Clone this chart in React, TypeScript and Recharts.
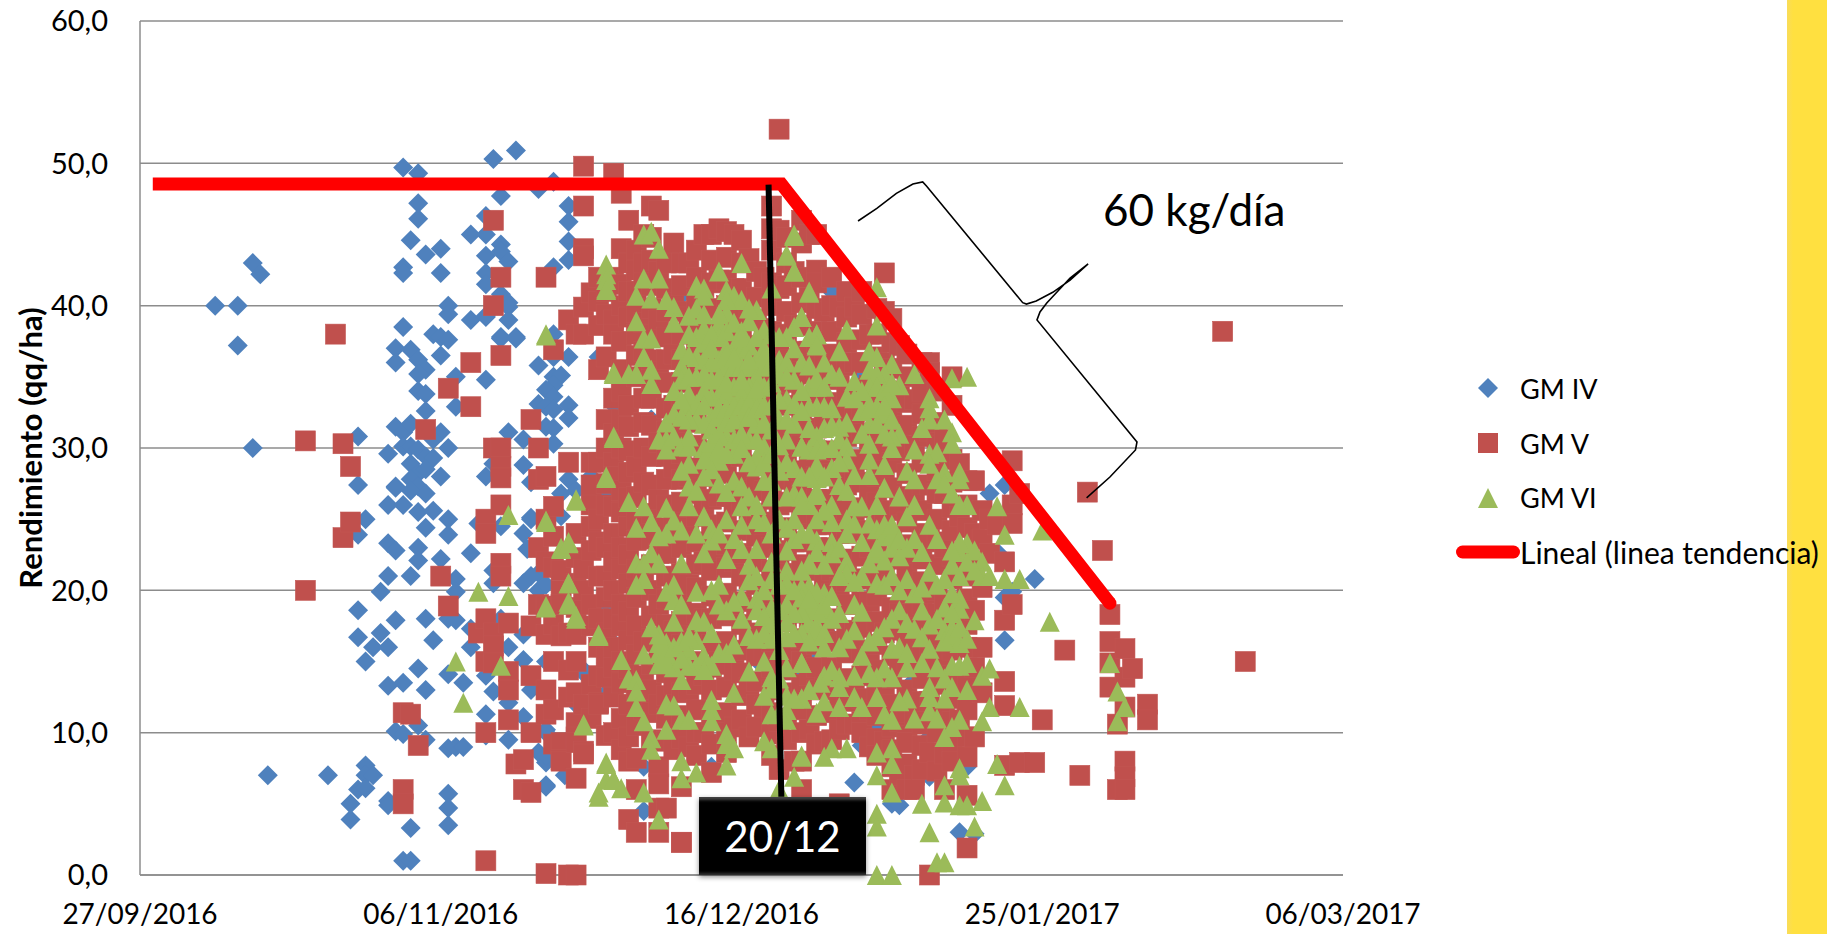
// Scatter of yield vs. sowing date by maturity group, with a plateau-and-decline trend line.
import { ScatterChart, Scatter, XAxis, YAxis, CartesianGrid, Legend } from 'recharts';

const FONT = 'Lato, "Open Sans", sans-serif';
const BLUE = '#4F81BD';
const RED = '#C0504D';
const GREEN = '#9BBB59';

// x values are days after 27/09/2016 (1 tick = 40 days)
const xTicks = [0, 40, 80, 120, 160];
const xTickLabels = ['27/09/2016', '06/11/2016', '16/12/2016', '25/01/2017', '06/03/2017'];
const yTicks = [0, 10, 20, 30, 40, 50, 60];

const gmIV = [
  [10,40],[13,40],[13,37.2],[15,43],[16,42.2],[15,30],[29,30.8],[35,49.7],[37,49.3],[37,47.2],[37,46.1],[36,44.6],[35,42.7],[35,42.3],[38,43.6],[40,44],[40,42.3],
  [41,40],[41,39.4],[35,38.5],[34,37],[36,36.9],[34,36],[37,36.2],[38,35.5],[37,35.2],[39,38],[40,37.8],[41,37.6],[40,36.5],[42,35],[46,34.8],[44,39],[46,39.2],[49,39.9],[49,39],
  [48,37.8],[50,37.8],[53,35.8],[57,36.4],[55,36.4],[55,35],[56,35.1],[55,34.4],[54,34.1],[55,33.6],[53,33.1],[54,32.9],[55,32.7],[57,33],[57,32.1],[37,34],[38,33.8],[42,32.9],[38,32.6],
  [34,31.5],[35,31.1],[36,31.7],[40,31.1],[39,30.6],[41,30],[33,29.6],[35,30.1],[36,30.1],[37,29.9],[38,29.4],[39,29.3],[36,28.9],[37,28.2],[38,28.5],[40,28],[36,27.8],[37,27.3],[34,27.3],
  [36,27],[38,26.8],[33,26],[35,26],[37,25.5],[39,25.6],[41,25],[38,24.4],[41,23.9],[33,23.3],[34,22.8],[37,23],[37,22.1],[40,22.2],[44,22.6],[33,21],[36,21],[42,20.8],[42,19.9],[32,19.9],
  [49,31.1],[51,30.6],[46,28],[51,28.8],[52,27.6],[52,25.1],[51,24],[45,24.7],[48,24.5],[52,23],[47,21.4],[51,20.5],[53,21.2],[47,20.5],[54,31.5],[55,31.4],[55,30.3],[47,28.9],[57,27.8],[58,27],[56,25.2],
  [47,50.3],[50,50.9],[55,48.7],[53,48.2],[48,47.7],[57,47],[57,45.9],[46,46.3],[44,45],[46,45],[48,44.3],[48,43.8],[57,44.5],[46,43.5],[49,43.1],[57,43.2],[55,42.7],[46,42.3],[46,41.5],[48,40.8],[49,40.2],[46,39.3],[48,37.7],[50,37.7],[55,38],
  [29,27.4],[34,27.2],[30,25],[29,23.9],[29,18.6],[34,17.9],[38,18],[41,18],[42,17.9],[29,16.7],[32,17],[31,16],[33,16],[39,16.5],[30,15],[37,14.5],[41,14.1],[33,13.3],[35,13.5],[38,13],[43,13.5],[44,17.3],
  [34,10.1],[35,9.9],[37,10.5],[38,9.5],[41,8.9],[42,9],[43,9],[30,7.7],[30,7],[31,7],[29,6],[30,6.1],[17,7],[25,7],[28,5],[28,3.9],[33,5.2],[33,4.9],[41,5.7],[41,4.7],[41,3.5],[36,3.3],[35,1],[36,1],
  [47,12.9],[46,11.3],[46,14],[49,12.1],[51,15.1],[52,13],[51,11.1],[54,10.2],[49,9.5],[46,9.8],[53,8.6],[54,6.3],[56.5,7],[54,7.9],[52,25],[51.5,22.9],[44,16],[49,16],[54,15],[59,14.4],[62,14.7],[62,12.8],[62,19],[63,16.3],[58,12.1],[52,21],[53,20],[48,18],[51,16.9],
  [64,39],[61,36.4],[72,40.7],[71,37],[63,33],[68,32],[70,34.8],[64,26.1],[66,29.6],[60,28],[56,26.8],[62,26.8],[71,24],[82,23.6],[76,21.8],[54,20.4],[62,16.6],[62,14.9],[59,14.2],[58,12],[54,10],[54,8.4],[54,6.2],[67,7.6],[67,4.5],[76,7.6],[82,15.1],[89,14.2],
  [119,20.8],[115,16.5],[116,19.9],[115,19.5],[114,24.7],[114,22.7],[95,6.5],[96,9.1],[97,9.9],[98,10.2],[100,5],[101,4.9],[109,3],[111,2.9],[103,15.2],[103,13.7],[105,11.8],[105,9.7],[105,6.9],[110,7.6],[89,15.6],[92,16.7],[96,17.9],[88,14.2],
  [92,41],[90,35.2],[106,30.9],[113,26.8],[115,27.4],[96,35],[102,30.3],
];

// each row: day, then the yields seen in that day's column
const gmVByDay = [
  [22,30.5,20],[26,38],[27,30.3,23.7],[28,28.7,24.8],[35,11.4,6,5],[36,11.3],[37,9.1],[38,31.3],[40,21],[41,34.2,18.9],[44,36,32.9],[45,17],
  [46,25,24,18,15,10,1],[47,46,40,30,17,16.1,14.9],[48,42,36.5,30,28.7,27.9,26,21.9,21],[49,17.7,14.3,13,10.9],[50,7.8],[51,8.1,6],[52,32,17.5,14,10,5.8],[53,30,27.8,23,19],
  [54,42,28,25,22,18.9,16.9,13,11.3,0.1],[55,36.9,25.9,23.8,21.6,17.6,15,11.6,9.2],[56,21.4,20,16.8,9.3,8.1,8,19],[57,39,29,17,14.4,12.5,0],[58,38,24,22.3,20.5,18.8,16.9,15,12.8,10.7,9.7,9.3,6.8,0],
  [59,49.8,47,44,43.5,39.9,38,21.5,20,12,8.7,8.5],[60,40.9,29,27.4,26,24.5,22.8,19,17.5,13.4,11],[61,42,40.3,38.6,35.5,29,25,23.4,21,18,16,14,12.1,12],
  [62,41,39.4,36.4,32,30,27.5,26,23,21,19.5,17,15.3,13.9,9.8],[63,49.3,42,39,38,33.5,31,29,28,25.9,24,22,20,18,16,14.6,12.5,10],
  [64,47.9,44,41.5,40,37.5,35.5,34,32,30,27,25.5,23,21.5,19,17.5,15,13.5,11,8.8],[65,46,43,41,39.2,33,31.5,29.8,28.3,26.5,24.5,22.5,20.5,18.5,16.5,14.5,12,9.7,8,3.9],
  [66,43.9,42.5,41,39.5,38,36.5,35,28.7,26.6,25,23.5,21.5,19.5,17.5,15.5,13,10.5,8.2,6,3],[67,45,43,41.6,38.8,36.8,33.5,31.8,30,27.6,24.4,20.6,16.4,14,11.6],
  [68,47,44.8,43.2,41.4,39.8,38,36.2,34.8,33.5,31.6,29.4,27.4,25.4,23.6,21.8,20,18.2,16.6,14.8,13,11.4,9.5],[69,46.7,42.4,39,35.4,30.4,26.4,22.6,19,15.4,12,7.6,6.4,4.7,3],
  [70,43,41.2,39.6,37.8,36.2,34.6,32.8,31.2,29.4,27.8,26,24.4,22.6,21,19.4,17.6,16,14.2,12.6,11,9.4,4.7],[71,44.4,40.2,36.6,33,28.6,25,20.8,17.2,13.4,8.8],
  [72,43,41.4,39.6,38,36.2,34.6,33,31.2,29.6,27.8,26.2,24.6,23,21.2,19.6,17.8,16.2,14.6,12.8,11.2,9.6,6.2,2.3],[73,43,39.2,35.6,31.8,28,24.4,20.4,16.8,13,9],
  [74,43.9,42,40.4,38.6,37,35.2,33.6,32,30.2,28.6,26.8,25.2,23.4,21.8,20.2,18.4,16.8,15,13.4,11.6,10,8.4],[75,45,41,37.4,33.8,29.6,25.8,22,18,14,10],
  [76,45,43.2,41.6,39.8,38.2,36.4,34.8,33.2,31.4,29.8,28,26.4,24.6,23,21.4,19.6,18,16.2,14.6,13,11.2,9.2,7.2],[77,45.4,41.8,38,34.2,30.4,26.6,22.8,19,15,11],
  [78,45.2,43.4,41.8,40,38.4,36.6,35,33.4,31.6,30,28.2,26.6,24.8,23.2,21.6,19.8,18.2,16.4,14.8,13.2,11.4,10,8.6],[79,45,41.2,37.4,33.6,29.8,26,22,18.4,14.4,10.4],
  [80,44.6,43,41.2,39.4,37.8,36,34.4,32.8,31,29.4,27.6,26,24.2,22.6,21,19.2,17.6,15.8,14.2,12.6,10.9],[81,43.3,39.8,36,32.2,28.4,24.6,20.8,17,13.2,9.7],
  [82,42.4,40.6,39,37.2,35.6,33.8,32.2,30.6,28.8,27.2,25.4,23.8,22,20.4,18.8,17,15.4,13.6,12,10.4],[83,42,38.4,34.6,30.8,27,23.2,19.4,15.6,11.8],
  [84,47,45.4,43.9,41.6,40,38.2,36.6,34.8,33.2,31.6,29.8,28.2,26.4,24.8,23,21.4,19.8,18,16.4,14.6,13,11.4,9.9,8.4],[85,45.3,41.2,37.4,33.6,29.8,26,22.2,18.4,14.6,10.8,7.4],
  [86,44.8,43,41.4,39.6,38,36.2,34.6,33,31.2,29.6,27.8,26.2,24.4,22.8,21.2,19.4,17.8,16,14.4,12.8,11,9.5],[87,42.4,38.6,34.8,31,27.2,23.4,19.6,15.8,12,8],
  [88,46,44.4,42,40.2,38.6,36.8,35.2,33.4,31.8,30.2,28.4,26.8,25,23.4,21.8,20,18.4,16.6,15,13.4,11.6,10,8,6],[89,45,40.6,36.8,33,29.2,25.4,21.6,17.8,14,10.2],
  [90,45,42.5,41.6,39.8,38.2,36.4,34.8,33.2,31.4,29.8,28,26.4,24.6,23,21.4,19.6,18,16.2,14.6,13,11.2,9.2],[91,39.6,36,32.2,28.4,24.6,20.8,17,13.2,9.4],
  [92,42,40,38.2,36.6,34.8,33.2,31.6,29.8,28.2,26.4,24.8,23,21.4,19.8,18,16.4,14.6,13,11.4,9.5],[93,39.9,35.4,31.6,27.8,24,20.2,16.4,12.6,10.2,5],
  [94,41,39.2,37.4,35.8,34,32.4,30.8,29,27.4,25.6,24,22.2,20.6,19,17.2,15.6,13.8,12.2,10.6],[95,39.9,36,32.2,28.4,24.6,20.8,17,13.2,10.6],
  [96,41,39.4,37.6,36,34.2,32.6,31,29.2,27.6,25.8,24.2,22.4,20.8,19.2,17.4,15.8,14,12.4,10.8,10],[97,38,34.4,30.6,26.8,23,19.2,15.4,11.6,9],
  [98,39.8,38,36.4,34.6,33,31.4,29.6,28,26.2,24.6,22.8,21.2,19.6,17.8,16.2,14.4,12.8,11.2,9.6,8.4],[99,42.3,39.6,36,32.2,28.4,24.6,20.8,17,13.2,9.4],
  [100,39.1,37.4,35.6,34,32.2,30.6,29,27.2,25.6,23.8,22.2,20.4,18.8,17.2,15.4,13.8,12,10.4,8.8,7.6,6],[101,37.2,33.6,29.8,26,22.2,18.4,14.6,10.8,7],
  [102,36.6,35,33.2,31.6,30,28.2,26.6,24.8,23.2,21.4,19.8,18.2,16.4,14.8,13,11.4,9.8,9.3,7.8,6],[103,33.4,30.2,26.4,22.6,18.8,15,11.2,7,6],
  [104,36,34,32.4,30.8,29,27.4,25.6,24,22.2,20.6,19,17.2,15.6,13.8,12.2,10.6,9.1,7.4],[105,36,35.3,31.2,27.4,23.6,19.8,16,12.2,8.6,0],
  [106,34,31.8,30.2,28.4,26.8,25,23.4,21.8,20,18.4,16.6,15,13.4,11.6,10,7.3],[107,30.6,26.8,23,19.2,15.4,11.6,8.5,6],
  [108,35,33,29.2,27.6,25.8,24.2,22.4,20.8,19.2,17.4,15.8,14,12.4,10.8,9,8],[109,28.9,25.2,21.4,17.6,13.8,10.9],
  [110,27.7,26,24.4,22.6,21,19.4,17.6,16,14.2,13.2,11.6,9.7,8.3,5.6,1.9],[111,27.7,24,22,18.6,14.6,9.7],[112,25.6,23.6,20.2,16,12.8],[113,25,22.6],[114,24.6],
  [115,22,17.9,13.6,11.9,7.7],[116,29.1,26,24.7,19],[117,26.8,7.9],[119,7.9],[120,10.9],[123,15.8],[125,7],[126,26.9],[128,22.8],
  [129,18.3,16.4,14.9,13.2],[130,10.6,6],[131,15.9,13.9,11.8,8,6.9,6],[132,14.5],[134,12,10.9],[85,52.4],[72,2.3],[144,38.2],[147,15],
];

const gmVI = [
  [62,42.9],[62,42.2],[62,41.2],[67,45],[68,45.2],[69,44],[67,41.9],[69,41.9],[66,40.7],[68,40.5],[70,40.4],[71,39.9],[71,38.8],[74,41.4],[75,41.2],[75,40.7],[77,42.4],[80,43],[73,39.3],[74,39.8],
  [78,41.1],[79,40.7],[80,40.4],[78,40.4],[78,39.5],[82,39.7],[81,38.9],[77,38.7],[84,41.2],[87,44.9],[86,43.6],[87,42.4],[89,41],[66,38.9],[67,37.7],[68,37.7],[67,36.4],[68,35.5],[68,34.5],[63,35.2],[65,35.2],[66,35.2],[54,37.9],
  [72,36.9],[72,35.7],[72,34.8],[71,34],[73,33],[74,33.1],[77,33.8],[74,37.8],[75,38.4],[77,37.8],[79,37.1],[80,36.9],[81,37.2],[82,36.2],[83,38.3],[87,38.5],[86,37.8],[88,39.2],[90,38],[89,37.8],[87,37],[90,37.3],
  [74,36.4],[75,36.2],[76,36],[74,35],[75,35.2],[77,36.2],[78,35.7],[79,35.7],[80,35.7],[81,35.7],[82,35],[83,35.7],[83,34.3],[79,34.3],[81,34.3],[80,33.8],[78,33.8],[82,33.6],[76,33.6],[85,35.2],[87,34.8],[86,33.4],[85,33.4],[87,33.1],[89,34.3],[90,34.3],[90,32.9],
  [70,31.8],[70,30.6],[69,30.6],[70,29.9],[72,30.1],[73,30.1],[73,28.9],[76,32.2],[77,32.2],[74,32],[75,31.7],[76,31.3],[78,30.8],[80,32.2],[81,30.6],[82,31.7],[84,31.3],[83,30.1],[86,30.6],[87,31.7],[88,30.1],[90,30.8],[89,29.9],
  [76,29.6],[77,29.1],[79,29.6],[82,29.4],[82,28.7],[87,28.6],[88,28],[76,28.5],[75,28],[84,27.7],[83,27.7],[73,27.3],[74,27],[77,27.5],[79,27.7],[78,26.9],[80,27.3],[81,26.6],[82,26],[80,25.9],[73,25.9],[70,25.8],[67,25.9],[62,27.9],[58,26.3],[63,30.7],
  [87,26.8],[88,26.6],[86,26.6],[90,27],[89,26],[84,26.6],[75,25.2],
  [98,41.3],[89,40.9],[98,38.6],[94,38.3],[90,38],[88,39.2],[90,37.2],[93,36.8],[97,36.8],[98,36.4],[100,35.9],[103,35.2],[108,34.9],[110,35],[101,34.4],[93,35],[95,34.7],[90,34.9],[91,34.3],[99,35.2],[97,35.5],[98,35.2],[97,34.3],[98,34.3],[100,33.5],[105,33.5],[105,32.8],[89,32.9],[92,32.8],[91,32.9],[94,33.6],[95,33.5],[97,33.1],[98,32.9],[99,32.4],[97,31.7],[98,31.7],
  [105,32],[104,31.4],[107,32],[108,31.1],[108,30.3],[93,31.5],[93,30.6],[90,30.8],[88,30.1],[97,30.3],[101,31],[100,30.8],[90,29.9],[94,30.1],[100,30],[103,29.9],[105,29.6],[106,29.7],[94,29.2],[99,28.8],[97,29.2],[102,28.4],[105,28.9],[107,28.3],[109,28.3],[103,27.8],[92,28.6],[90,27.9],[95,28.1],[97,28.1],[99,27.2],[93,27.4],[109,27.8],[106,27.8],[101,26.6],[90,26.7],[103,26],[98,26],[95,25.9],[96,25.9],[92,26],[110,26],[109,26],[114,25.9],[108,26.8],[107,27.5],
  [90,25],[92,24.8],[94,25],[95,24.7],[97,24.7],[98,24.3],[99,23.8],[100,23],[102,25.2],[100,23.9],[90,23.5],[92,23.4],[90,22.7],[92,22.6],[94,22],[89,21.8],[91,21.8],[97,21.9],[98,22.6],[99,22.1],[104,22.7],[105,21.3],[94,21.2],[95,20.6],[98,20.5],[99,20.4],[102,20.8],[103,19.8],
  [90,19.9],[91,19.8],[89,20.3],[90,18.8],[89,18.8],[91,18.4],[89,17.7],[90,17.6],[95,19],[96,18.5],[95,17.2],[101,18.6],[102,17.7],[103,17.3],[104,18.6],[105,17.6],[107,18.8],[109,19.4],[109,18.7],[111,17.9],[107,17.2],[108,17.4],
  [108,21.8],[109,22.7],[110,23.3],[111,22.8],[112,22],[109,21],[112,21],[115,23.9],[115,20.8],[117,20.8],[113,21],[121,17.8],[120,24.2],[98,16.8],[90,16.8],[104,16.7],[108,16.6],[109,16.3],[107,16.4],[105,15.9],[100,15.9],[104,14.9],[102,14.6],[99,14.5],[100,13.9],[98,13.9],[108,14.7],[109,14.7],[110,14.9],[112,14],[113,14.5],[91,14],[93,13.9],[95,14],[88,14.9],[93,13.2],
  [105,13.2],[105,12.5],[107,13.8],[108,13.2],[110,13],[107,12.4],[98,12.5],[102,12.4],[101,12.2],[95,12.5],[96,11.8],[93,11.8],[88,12.4],[99,11.3],[100,10.9],[103,11],[105,11.5],[106,11],[109,10.9],[108,10.4],[107,9.7],[113,11.8],[117,11.8],[112,10.8],
  [92,8.9],[94,8.9],[91,8.3],[88,8.3],[98,8.6],[100,8.9],[100,7.8],[114,7.8],[109,7.5],[109,7],[98,7],[107,6.3],[115,6.3],[100,5.8],[112,5.2],[104,5],[107,5.1],[109,4.9],[110,4.9],[98,4.3],[98,3.4],[111,3.4],[105,3],[106,0.9],[107,0.9],[98,0],[100,0],
  [54,24.9],[57,23.4],[56,23],[68,24.8],[71,24.9],[75,22.6],[76,24.3],[76,23.5],[79,23.6],[80,22.9],[82,22.9],[66,21.9],[67,21.9],[69,21.9],[72,21.9],[67,20.8],[66,20.4],[57,20.5],[81,21.8],[81,20.7],[84,20.8],[86,21.4],[87,23.6],[86,22.8],[89,21.9],[88,20.2],
  [70,19.9],[71,20.4],[71,19.3],[72,19],[74,19.9],[76,20],[71,17.8],[74,17.9],[75,17.8],[76,17],[74,16.5],[73,15.8],[74,14.7],[76,14.7],[73,14.7],[72,13.7],[71,14.6],[70,14.9],[69,15.6],[70,16.3],[69,16.3],[69,16.9],[68,17.4],[67,15.5],[64,15.1],[65,13.8],[66,13.7],[66,12.9],[66,11.8],[67,10.8],[70,10.2],[68,9.6],[68,8.8],[70,12],[71,11.9],[72,10.9],[73,10.9],[76,12.3],[76,11.6],[76,10.8],[79,12.8],[78,9.9],[78,9.2],[79,8.9],[78,7.7],[72,8],[72,6.8],[74,7.2],[77,15.6],[78,15.6],[79,16.2],[81,16.8],[82,16.6],[81,14.3],[61,16.8],[58,18],[57,19],[54,18.8],[59,10.5],
  [82,19.4],[82,18.6],[84,18.8],[84,17.7],[84,16.6],[84,13.9],[84,13.1],[84,11.3],[86,14.6],[88,14.9],[86,12.6],[88,12.4],[86,11.6],[86,10.9],[84,8.9],[88,8.4],[87,6.9],[85,6],[62,7.8],[63,6.7],[64,6.1],[61,5.5],[67,5.8],[69,3.9],[62,6.7],[86,16.7],[86,19],[86,20.5],[88,19.5],[90,18.6],[90,19.8],[90,17.2],[90.5,13.5],
  [49,25.3],[54,24.8],[58,26.4],[56,22.9],[57,23.3],[45,19.9],[49,19.6],[57,20.5],[54,18.9],[57,19.2],[58,18.2],[61,16.9],[42,15],[48,14.7],[43,12.1],[59,10.6],[62,7.9],[61,5.8],[63,6.7],[54,38],[62,41.8],[62,41.1],[63,35.3],[63,30.8],[62,28],
  [129,14.9],[130,12.9],[131,11.8],[130,10.8],[87,45],[86,43.5],[87,42.4],
  // solid green core of the cloud, where single triangles can only be estimated
  [73,38],[73,36.5],[73,35],[73,33.8],[73,32],[73,30.8],[75,39.4],[75,37.4],[75,34],[75,33],[75,30],[75,29.2],[76,38],[76,37],[76,34.8],[76,30.4],[77,39.4],[77,35],[77,32.8],[77,31],[77,30],
  [78,38.2],[78,37],[78,36.6],[78,34.6],[78,32.8],[78,31.8],[78,29.6],[79,38.8],[79,36.4],[79,33],[79,32],[79,30.6],[80,38.2],[80,37.8],[80,34.8],[80,33],[80,31],[80,30],[81,39.8],[81,36.2],[81,33.2],[81,32.2],[81,29],
  [82,37.8],[82,34.2],[82,32.8],[82,30.6],[83,37],[83,36.4],[83,33],[83,31.8],[83,29],[84,38],[84,36],[84,34.6],[84,33],[84,29.6],[85,37.8],[85,36.2],[85,32],[85,30.2],[85,28.4],[86,36],[86,35],[86,32],[86,29],[71,32.4],[71,30.8],[72,32.2],[72,33.4],[72,28.4],
  [91,31.4],[91,30],[92,31.6],[92,30],[93,29],[94,31.8],[96,34],[96,32.6],[96,31],[97,32.8],[99,34],[99,33],[100,32],[100,34.6],[99,31],[88,32.6],[88,34],[88,36],[89,35.8],[89,31.4],[91,36],[92,35.2],[91,28],[88,26],[90,28.8],[89,28],[91,25.6],
  [98,23],[99,24.6],[100,24.6],[101,23.6],[101,22.4],[88,18.4],[88,17],[89,19.4],[91,19],[91,17],[92,19.6],[92,18],[109,23.4],[110,22],[111,21.4],[108,22.8],[108,17],[108,18.4],[109,17.4],[110,16.6],[85,20.4],[85,18.6],[85,17],[87,20],[87,18.4],[87,17],[88,21.4],[89,16.4],[86,17.8],
  [69,14.8],[70,15.6],[71,16],[72,15.2],[72,16.4],[73,16.8],[75,15.4],[75,14.4],[83,20],[83,18.2],[83,17],[80,19.6],[80,18],[78,18.6],[77,19],[77,20.4],[79,19.2],[82,21],[84,22],[84,24],[85,25],[86,24.4],[87,25],[88,24],[89,24],[83,24.8],[82,25],[78,25],[77,24],[78,22.2],[80,24.6],[74,24],[72,24.2],[70,24],[69,23.8],[68,22.6],[66,24.4],[65,26.2],
  [94,27],[94,24],[96,23.4],[96,21],[93,23],[93,21],[100,21],[101,20],[102,23],[103,23.6],[105,24.6],[106,23.6],[106,20.4],[107,20.8],[104,20.2],[108,19.8],[93,18.4],[94,16.6],[93,16],[96,15.4],[97,14.2],[97,16.4],[99,17.4],[100,18],[101,16],[102,15.6],[106,14.6],[106,18],[85,13.8],[87,12.4],[85,11.4],[83,12.6],[83,15],[85,15.8],[83,9.4],[90,11.4],[91,12.2],[89,13],[91,16],[92,14.4],
];

const trendDays = [1.7, 85.3, 129];
const trendValues = [48.55, 48.55, 19.1];
const markerLineDays = [83.6, 85.3];
const markerLineValues = [48.5, 5.5];
const braceDays = [95.5,98,100.6,102.8,104.1,104.6,117.4,117.9,119.2,121.4,123.7,126.1,123.7,120.6,119.7,119.3,132.6,132.4,129,125.9];
const braceValues = [45.95,46.84,47.89,48.55,48.69,48.41,40.21,40.11,40.33,40.94,41.8,42.93,41.94,40.19,39.56,39,30.42,29.86,27.96,26.49];

const toPoints = (rows: number[][]) => rows.map(([x, y]) => ({ x, y }));
const zipPoints = (xs: number[], ys: number[]) => xs.map((x, i) => ({ x, y: ys[i] }));
const gmIVPoints = toPoints(gmIV);
const gmVPoints = gmVByDay.flatMap(([x, ...ys]) => ys.map((y) => ({ x, y })));
const gmVIPoints = toPoints(gmVI);

const R = 10;

function DiamondDot({ cx, cy }: any) {
  return <polygon points={`${cx},${cy - R} ${cx + R},${cy} ${cx},${cy + R} ${cx - R},${cy}`} fill={BLUE} />;
}
function SquareDot({ cx, cy }: any) {
  return <rect x={cx - R} y={cy - R} width={2 * R} height={2 * R} fill={RED} stroke="#C25653" strokeWidth={0.6} />;
}
function TriangleDot({ cx, cy }: any) {
  return <polygon points={`${cx},${cy - R} ${cx + R},${cy + R} ${cx - R},${cy + R}`} fill={GREEN} />;
}
function TrendEnd({ cx, cy, index }: any) {
  return index === trendDays.length - 1 ? <circle cx={cx} cy={cy} r={6.5} fill="#FF0000" /> : <g />;
}
const NoDot = () => <g />;

function LegendMark({ name }: { name: string }) {
  if (name === 'GM IV') return <polygon points="32,0 42,10 32,20 22,10" fill={BLUE} />;
  if (name === 'GM V') return <rect x={22} y={0} width={20} height={20} fill={RED} />;
  if (name === 'GM VI') return <polygon points="32,0 42,20 22,20" fill={GREEN} />;
  return <line x1={6.5} y1={10} x2={57.5} y2={10} stroke="#FF0000" strokeWidth={13} strokeLinecap="round" />;
}

function LegendBox({ payload }: any) {
  const items = (payload || []).filter((p: any) => p.type !== 'none');
  return (
    <div>
      {items.map((p: any) => (
        <div key={p.value} style={{ height: 54.7, display: 'flex', alignItems: 'center', whiteSpace: 'nowrap' }}>
          <svg width={64} height={20} style={{ flex: 'none' }}>
            <LegendMark name={p.value} />
          </svg>
          <span style={{ fontSize: p.value.startsWith('GM') ? 27 : 30, color: '#000', fontFamily: FONT }}>{p.value}</span>
        </div>
      ))}
    </div>
  );
}

export default function App() {
  return (
    <div style={{ position: 'absolute', left: 0, top: 0, width: 1827, height: 934, background: '#fff', overflow: 'hidden', fontFamily: FONT }}>
      <div style={{ position: 'absolute', left: 1787, top: 0, width: 40, height: 934, background: 'linear-gradient(to right, #F9DC5A 0, #FFE040 6px)' }} />
      <ScatterChart width={1827} height={934} margin={{ top: 21, right: 484, bottom: 0, left: 0 }} style={{ position: 'absolute', left: 0, top: 0 }}>
        <CartesianGrid vertical={false} stroke="#8C8C8C" strokeWidth={1.5} />
        <XAxis
          type="number"
          dataKey="x"
          domain={[0, 160]}
          ticks={xTicks}
          interval={0}
          tickLine={false}
          stroke="#8C8C8C"
          strokeWidth={1.5}
          height={59}
          tickMargin={23}
          tick={{ fontSize: 28, fill: '#000', fontFamily: FONT }}
          tickFormatter={(v: number) => xTickLabels[xTicks.indexOf(v)]}
        />
        <YAxis
          type="number"
          dataKey="y"
          domain={[0, 60]}
          ticks={yTicks}
          interval={0}
          tickLine={false}
          stroke="#8C8C8C"
          strokeWidth={1.5}
          width={140}
          tickMargin={26}
          tick={{ fontSize: 29, fill: '#000', fontFamily: FONT }}
          tickFormatter={(v: number) => v.toFixed(1).replace('.', ',')}
          label={{
            value: 'Rendimiento (qq/ha)',
            angle: -90,
            position: 'insideLeft',
            offset: 31,
            style: { fontSize: 31, fontWeight: 700, fill: '#000', fontFamily: FONT, textAnchor: 'middle' },
          }}
        />
        <Legend layout="vertical" align="center" verticalAlign="middle" content={<LegendBox />} wrapperStyle={{ left: 1456, top: 361, width: 370 }} />
        <Scatter name="GM IV" data={gmIVPoints} shape={DiamondDot} fill={BLUE} isAnimationActive={false} />
        <Scatter name="GM V" data={gmVPoints} shape={SquareDot} fill={RED} isAnimationActive={false} />
        <Scatter name="GM VI" data={gmVIPoints} shape={TriangleDot} fill={GREEN} isAnimationActive={false} />
        <Scatter
          name="Lineal (linea tendencia)"
          data={zipPoints(trendDays, trendValues)}
          shape={TrendEnd}
          line={{ stroke: '#FF0000', strokeWidth: 13, strokeLinejoin: 'miter' }}
          fill="#FF0000"
          isAnimationActive={false}
        />
        <Scatter
          name="corte"
          legendType="none"
          data={zipPoints(markerLineDays, markerLineValues)}
          shape={NoDot}
          line={{ stroke: '#000', strokeWidth: 6 }}
          isAnimationActive={false}
        />
        <Scatter
          name="llave"
          legendType="none"
          data={zipPoints(braceDays, braceValues)}
          shape={NoDot}
          line={{ stroke: '#000', strokeWidth: 1.6 }}
          isAnimationActive={false}
        />
      </ScatterChart>
      <div style={{ position: 'absolute', left: 1103, top: 179, fontSize: 44, lineHeight: '60px', color: '#000' }}>60 kg/día</div>
      <div
        style={{
          position: 'absolute', left: 699, top: 797, width: 167, height: 78, background: '#000', color: '#fff', fontSize: 42,
          display: 'flex', alignItems: 'center', justifyContent: 'center',
          boxShadow: 'inset 0 5px 3px -2px #444, inset 0 -4px 3px -2px #333, 0 2px 5px rgba(0,0,0,0.45)',
        }}
      >
        20/12
      </div>
    </div>
  );
}
